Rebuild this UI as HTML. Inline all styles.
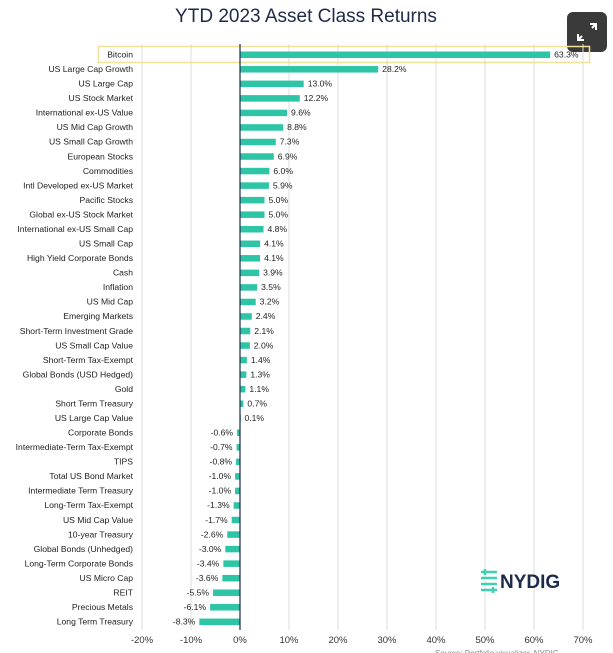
<!DOCTYPE html>
<html><head><meta charset="utf-8"><style>
body{margin:0;background:#fff;}
svg{display:block;font-family:"Liberation Sans",sans-serif;}
</style></head><body>
<svg width="613" height="653" viewBox="0 0 613 653" xmlns="http://www.w3.org/2000/svg">
<text x="306" y="22" text-anchor="middle" font-size="19" fill="#1d2a4a">YTD 2023 Asset Class Returns</text>
<rect x="567" y="12" width="40" height="40" rx="6" fill="#3a3a3a"/>
<path d="M582 36 l-4 4 M578 34 v6 h6 M592 28 l4 -4 M590 24 h6 v6" stroke="#fff" stroke-width="2" fill="none"/>
<g stroke="#dcdcdc" stroke-width="1">
<line x1="142" y1="44" x2="142" y2="630"/><line x1="191" y1="44" x2="191" y2="630"/>
<line x1="289" y1="44" x2="289" y2="630"/><line x1="338" y1="44" x2="338" y2="630"/>
<line x1="387" y1="44" x2="387" y2="630"/><line x1="436" y1="44" x2="436" y2="630"/>
<line x1="485" y1="44" x2="485" y2="630"/><line x1="534" y1="44" x2="534" y2="630"/>
<line x1="583" y1="44" x2="583" y2="630"/>
</g>
<rect x="98.5" y="46.5" width="491" height="16" fill="none" stroke="#efe29a" stroke-width="1.5"/>
<g id="bars" font-size="8.6" fill="#222"></g>
<line x1="240" y1="44" x2="240" y2="630" stroke="#1d2a4a" stroke-width="1.2"/>
<g font-size="9.5" fill="#333" text-anchor="middle">
<text x="142" y="643">-20%</text><text x="191" y="643">-10%</text><text x="240" y="643">0%</text>
<text x="289" y="643">10%</text><text x="338" y="643">20%</text><text x="387" y="643">30%</text>
<text x="436" y="643">40%</text><text x="485" y="643">50%</text><text x="534" y="643">60%</text><text x="583" y="643">70%</text>
</g>
<g stroke="#3ecfb5" stroke-width="2.5" fill="none">
<path d="M481 572 h16 M481 578 h16 M481 584 h16 M481 590 h16"/>
<path d="M485 569 v6 M493 587 v6"/>
</g>
<text x="500" y="588" font-size="19" font-weight="bold" fill="#1d2a4a">NYDIG</text>
<text x="435" y="656" font-size="8" fill="#888">Source: Portfolio visualizer, NYDIG</text>
</svg>
<script>
const d=[["Bitcoin",63.3],["US Large Cap Growth",28.2],["US Large Cap",13.0],["US Stock Market",12.2],["International ex-US Value",9.6],["US Mid Cap Growth",8.8],["US Small Cap Growth",7.3],["European Stocks",6.9],["Commodities",6.0],["Intl Developed ex-US Market",5.9],["Pacific Stocks",5.0],["Global ex-US Stock Market",5.0],["International ex-US Small Cap",4.8],["US Small Cap",4.1],["High Yield Corporate Bonds",4.1],["Cash",3.9],["Inflation",3.5],["US Mid Cap",3.2],["Emerging Markets",2.4],["Short-Term Investment Grade",2.1],["US Small Cap Value",2.0],["Short-Term Tax-Exempt",1.4],["Global Bonds (USD Hedged)",1.3],["Gold",1.1],["Short Term Treasury",0.7],["US Large Cap Value",0.1],["Corporate Bonds",-0.6],["Intermediate-Term Tax-Exempt",-0.7],["TIPS",-0.8],["Total US Bond Market",-1.0],["Intermediate Term Treasury",-1.0],["Long-Term Tax-Exempt",-1.3],["US Mid Cap Value",-1.7],["10-year Treasury",-2.6],["Global Bonds (Unhedged)",-3.0],["Long-Term Corporate Bonds",-3.4],["US Micro Cap",-3.6],["REIT",-5.5],["Precious Metals",-6.1],["Long Term Treasury",-8.3]];
const g=document.getElementById('bars');let h='';
d.forEach((r,i)=>{const y=54.5+i*14.54;const v=r[1];const w=Math.abs(v)*4.9;const x=v>=0?240:240-w;
h+=`<text x="133" y="${y+3}" text-anchor="end">${r[0]}</text>`;
h+=`<rect x="${x}" y="${y-3}" width="${Math.max(w,0.8)}" height="6.5" fill="#2ec4a6"/>`;
const s=v.toFixed(1)+'%';
h+=v>=0?`<text x="${240+w+4}" y="${y+3}">${s}</text>`:`<text x="${240-w-4}" y="${y+3}" text-anchor="end">${s}</text>`;});
g.innerHTML=h;
</script>
</body></html>
